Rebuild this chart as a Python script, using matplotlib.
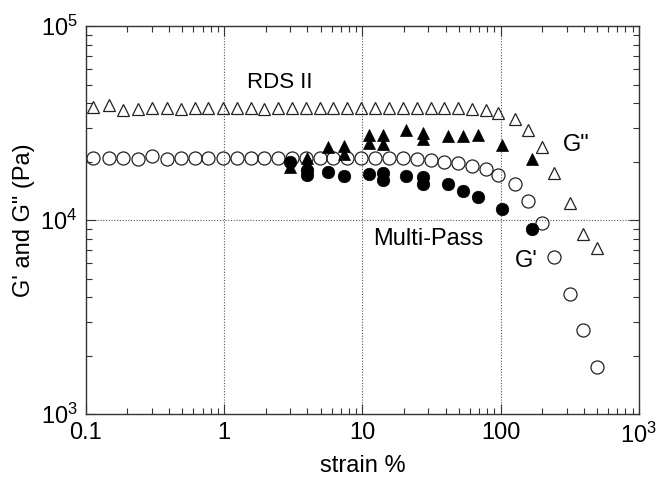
import matplotlib
matplotlib.use("Agg")
import matplotlib.pyplot as plt
from matplotlib.ticker import LogLocator, NullFormatter

plt.rcParams["font.family"] = ["Liberation Sans", "DejaVu Sans"]
plt.rcParams["mathtext.fontset"] = "custom"
plt.rcParams["mathtext.rm"] = "Liberation Sans"
plt.rcParams["mathtext.it"] = "Liberation Sans"

# RDS II (open symbols)
strain_rds = [0.113, 0.146, 0.185, 0.240, 0.300, 0.389, 0.486, 0.617, 0.770, 0.979,
              1.24, 1.56, 1.95, 2.45, 3.09, 3.92, 4.95, 6.18, 7.80, 9.79,
              12.4, 15.7, 19.6, 24.8, 31.3, 39.2, 49.5, 62.5, 78.6, 96.4,
              127, 157, 199, 244, 318, 395, 499]
gpp_rds = [38200, 39200, 36900, 37500, 37800, 37800, 37600, 37800, 37800, 37800,
           37800, 37800, 37600, 37800, 37800, 37800, 37800, 37800, 37800, 37800,
           37800, 37800, 37800, 37800, 37800, 37800, 37800, 37500, 36900, 35600,
           33200, 29100, 23800, 17500, 12200, 8470, 7170]
gp_rds = [20800, 20800, 20900, 20700, 21300, 20700, 20800, 20800, 20800, 20800,
          20800, 20800, 20800, 20800, 20800, 20800, 20800, 20800, 20800, 20800,
          20800, 20800, 20800, 20700, 20400, 19980, 19670, 18980, 18320, 17060,
          15330, 12600, 9710, 6470, 4160, 2710, 1750]

# Multi-Pass (filled symbols)
strain_mp_gp = [3.00, 3.97, 3.97, 5.63, 7.42, 11.1, 14.2, 14.2, 20.7, 27.4,
                27.4, 41.5, 53.8, 68.4, 102, 168]
gp_mp = [19900, 18100, 17100, 17700, 16900, 17400, 17450, 16100, 16900, 16650,
         15350, 15350, 14150, 13200, 11350, 9050]
strain_mp_gpp = [3.00, 3.97, 3.97, 5.63, 7.42, 7.42, 11.1, 11.1, 14.2, 14.2,
                 20.7, 27.4, 27.4, 41.5, 53.8, 68.4, 102, 168]
gpp_mp = [18750, 20900, 19450, 23800, 24100, 21900, 27450, 24850, 27450, 24700,
          29100, 28100, 26150, 27100, 27100, 27450, 24350, 20650]

x_ticks = [0.1, 1, 10, 100, 1000]
x_labels = ["0.1", "1", "10", "100", "$10^3$"]
y_ticks = [1e3, 1e4, 1e5]
y_labels = ["$10^3$", "$10^4$", "$10^5$"]

fig = plt.figure(figsize=(6.6, 4.86), dpi=100)
ax = fig.add_axes([0.130, 0.148, 0.838, 0.798])
ax.set_xscale("log")
ax.set_yscale("log")
ax.set_xlim(0.1, 1000)
ax.set_ylim(1e3, 1e5)

# dotted grid at the decades only
for gx in [1, 10, 100]:
    ax.axvline(gx, color="#555555", lw=0.8, ls=(0, (1, 1.5)), zorder=0)
ax.axhline(1e4, color="#555555", lw=0.8, ls=(0, (1, 1.5)), zorder=0)

ax.plot(strain_rds, gpp_rds, ls="none", marker="^", ms=8.5, mfc="none",
        mec="#222222", mew=0.9, zorder=2)
ax.plot(strain_rds, gp_rds, ls="none", marker="o", ms=9.4, mfc="none",
        mec="#222222", mew=0.9, zorder=2)
ax.plot(strain_mp_gpp, gpp_mp, ls="none", marker="^", ms=8.5, mfc="black",
        mec="black", mew=0.5, zorder=3)
ax.plot(strain_mp_gp, gp_mp, ls="none", marker="o", ms=9.0, mfc="black",
        mec="black", mew=0.5, zorder=3)

ax.text(2.54, 51400, "RDS II", fontsize=16, ha="center", va="center")
ax.text(29.9, 7980, "Multi-Pass", fontsize=17, ha="center", va="center")
ax.text(153, 6150, "G'", fontsize=17, ha="center", va="center")
ax.text(352, 24400, 'G"', fontsize=17, ha="center", va="center")

ax.set_xticks(x_ticks)
ax.set_xticklabels(x_labels)
ax.set_yticks(y_ticks)
ax.set_yticklabels(y_labels)
ax.xaxis.set_minor_locator(LogLocator(base=10, subs=range(2, 10)))
ax.yaxis.set_minor_locator(LogLocator(base=10, subs=range(2, 10)))
ax.xaxis.set_minor_formatter(NullFormatter())
ax.yaxis.set_minor_formatter(NullFormatter())
ax.tick_params(which="both", direction="in", top=True, right=True,
               color="#333333", width=0.8, labelsize=17)
ax.tick_params(which="major", length=7, pad=6)
ax.tick_params(which="minor", length=4)
for sp in ax.spines.values():
    sp.set_color("#333333")
    sp.set_linewidth(1.0)

ax.set_xlabel("strain %", fontsize=17, labelpad=5)
ax.set_ylabel('G\' and G" (Pa)', fontsize=17, labelpad=4)

fig.savefig("out.png", dpi=100)
